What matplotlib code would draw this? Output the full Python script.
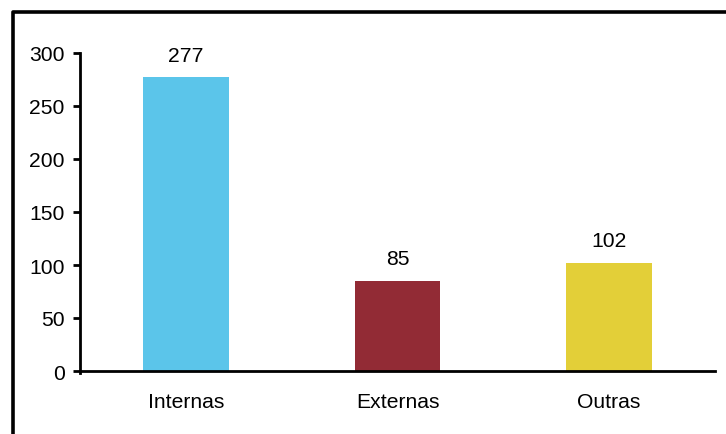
import matplotlib
matplotlib.use("Agg")
import matplotlib.pyplot as plt
from matplotlib.lines import Line2D

categories = ["Internas", "Externas", "Outras"]
values = [277, 85, 102]
colors = ["#5BC5EA", "#922B35", "#E3CF38"]
yticks = [0, 50, 100, 150, 200, 250, 300]

plt.rcParams["font.family"] = ["Liberation Sans", "DejaVu Sans"]
FS = 15.2

W, H = 726, 435
fig = plt.figure(figsize=(W / 100, H / 100), dpi=100)
ax = fig.add_axes([80 / W, 1 - 372 / H, (715 - 80) / W, (372 - 54) / H])

x = list(range(len(categories)))
bars = ax.bar(x, values, width=0.405, color=colors)
for xi, v in zip(x, values):
    ax.annotate(str(v), (xi, v), xytext=(0, 9), textcoords="offset points",
                ha="center", va="bottom", fontsize=FS)

ax.set_xlim(-0.5, len(categories) - 0.5)
ax.set_ylim(0, 300)
ax.set_yticks(yticks)
ax.set_xticks(x)
ax.set_xticklabels(categories)

for s in ["top", "right"]:
    ax.spines[s].set_visible(False)
ax.spines["left"].set_linewidth(2)
ax.spines["bottom"].set_linewidth(2)
ax.spines["left"].set_bounds(-1.5, 300)
ax.tick_params(axis="y", length=5, width=2, pad=6, labelsize=FS)
ax.tick_params(axis="x", length=0, pad=15, labelsize=FS)

# frame around the figure, open on the right and bottom
fig.add_artist(Line2D([13 / W, 13 / W, 1.0], [0.0, 1 - 13 / H, 1 - 13 / H],
                      transform=fig.transFigure, color="black", linewidth=2.6))

fig.savefig("out.png", dpi=100)
